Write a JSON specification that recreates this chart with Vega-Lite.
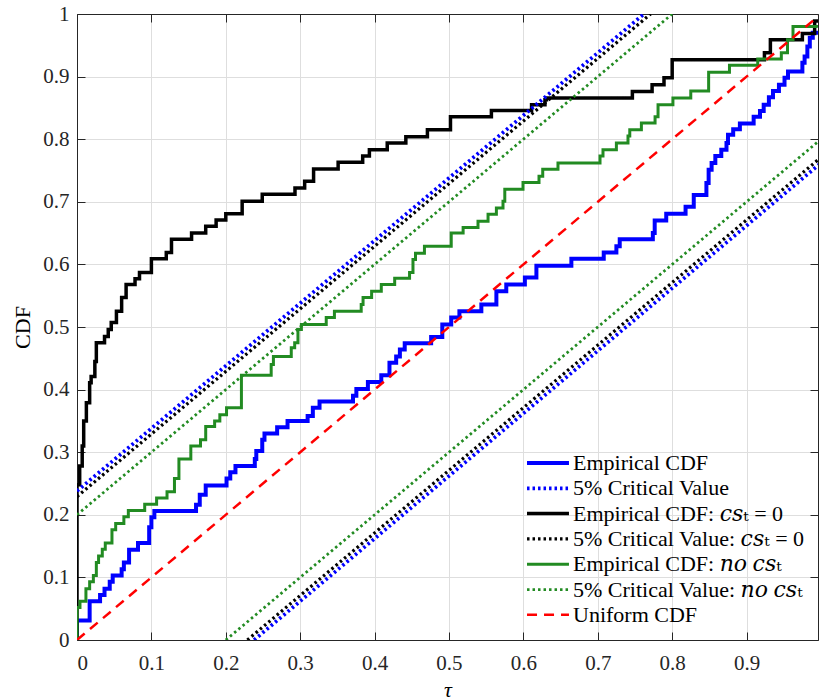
{
  "$schema": "https://vega.github.io/schema/vega-lite/v6.json",
  "width": 741,
  "height": 626,
  "autosize": {"type": "none"},
  "padding": {"left": 77, "top": 14, "right": 1, "bottom": 60},
  "background": "white",
  "config": {
    "view": {"stroke": null},
    "font": "Liberation Serif",
    "axis": {
      "domainColor": "#262626",
      "domainWidth": 1,
      "tickColor": "#262626",
      "tickWidth": 1,
      "tickSize": -8,
      "gridColor": "#dedede",
      "gridWidth": 1,
      "labelFont": "Liberation Serif",
      "labelFontSize": 21,
      "labelColor": "#262626",
      "titleFont": "Liberation Serif",
      "titleFontSize": 22,
      "titleFontWeight": "normal",
      "titleColor": "#000000"
    }
  },
  "datasets": {
    "steps": [
      {"series": "emp", "x": 0, "y": 0},
      {"series": "emp", "x": 0, "y": 0.031},
      {"series": "emp", "x": 0.017, "y": 0.062},
      {"series": "emp", "x": 0.031, "y": 0.072},
      {"series": "emp", "x": 0.037, "y": 0.082},
      {"series": "emp", "x": 0.044, "y": 0.093},
      {"series": "emp", "x": 0.048, "y": 0.103},
      {"series": "emp", "x": 0.06, "y": 0.113},
      {"series": "emp", "x": 0.063, "y": 0.124},
      {"series": "emp", "x": 0.07, "y": 0.144},
      {"series": "emp", "x": 0.082, "y": 0.155},
      {"series": "emp", "x": 0.097, "y": 0.18},
      {"series": "emp", "x": 0.1, "y": 0.196},
      {"series": "emp", "x": 0.104, "y": 0.206},
      {"series": "emp", "x": 0.16, "y": 0.216},
      {"series": "emp", "x": 0.165, "y": 0.232},
      {"series": "emp", "x": 0.173, "y": 0.247},
      {"series": "emp", "x": 0.201, "y": 0.258},
      {"series": "emp", "x": 0.206, "y": 0.268},
      {"series": "emp", "x": 0.213, "y": 0.278},
      {"series": "emp", "x": 0.239, "y": 0.289},
      {"series": "emp", "x": 0.241, "y": 0.302},
      {"series": "emp", "x": 0.249, "y": 0.32},
      {"series": "emp", "x": 0.252, "y": 0.33},
      {"series": "emp", "x": 0.269, "y": 0.34},
      {"series": "emp", "x": 0.283, "y": 0.35},
      {"series": "emp", "x": 0.31, "y": 0.358},
      {"series": "emp", "x": 0.317, "y": 0.371},
      {"series": "emp", "x": 0.326, "y": 0.381},
      {"series": "emp", "x": 0.371, "y": 0.39},
      {"series": "emp", "x": 0.3755, "y": 0.401},
      {"series": "emp", "x": 0.391, "y": 0.412},
      {"series": "emp", "x": 0.409, "y": 0.423},
      {"series": "emp", "x": 0.42, "y": 0.443},
      {"series": "emp", "x": 0.429, "y": 0.453},
      {"series": "emp", "x": 0.434, "y": 0.464},
      {"series": "emp", "x": 0.4405, "y": 0.474},
      {"series": "emp", "x": 0.476, "y": 0.484},
      {"series": "emp", "x": 0.491, "y": 0.504},
      {"series": "emp", "x": 0.503, "y": 0.515},
      {"series": "emp", "x": 0.514, "y": 0.525},
      {"series": "emp", "x": 0.5435, "y": 0.536},
      {"series": "emp", "x": 0.5637, "y": 0.557},
      {"series": "emp", "x": 0.577, "y": 0.568},
      {"series": "emp", "x": 0.602, "y": 0.579},
      {"series": "emp", "x": 0.6175, "y": 0.598},
      {"series": "emp", "x": 0.6645, "y": 0.609},
      {"series": "emp", "x": 0.708, "y": 0.619},
      {"series": "emp", "x": 0.725, "y": 0.629},
      {"series": "emp", "x": 0.7295, "y": 0.64},
      {"series": "emp", "x": 0.774, "y": 0.65},
      {"series": "emp", "x": 0.7765, "y": 0.67},
      {"series": "emp", "x": 0.792, "y": 0.681},
      {"series": "emp", "x": 0.818, "y": 0.692},
      {"series": "emp", "x": 0.829, "y": 0.711},
      {"series": "emp", "x": 0.846, "y": 0.73},
      {"series": "emp", "x": 0.849, "y": 0.751},
      {"series": "emp", "x": 0.853, "y": 0.762},
      {"series": "emp", "x": 0.858, "y": 0.773},
      {"series": "emp", "x": 0.866, "y": 0.783},
      {"series": "emp", "x": 0.873, "y": 0.794},
      {"series": "emp", "x": 0.875, "y": 0.807},
      {"series": "emp", "x": 0.882, "y": 0.816},
      {"series": "emp", "x": 0.891, "y": 0.825},
      {"series": "emp", "x": 0.9095, "y": 0.836},
      {"series": "emp", "x": 0.918, "y": 0.845},
      {"series": "emp", "x": 0.923, "y": 0.855},
      {"series": "emp", "x": 0.93, "y": 0.867},
      {"series": "emp", "x": 0.9355, "y": 0.877},
      {"series": "emp", "x": 0.9435, "y": 0.887},
      {"series": "emp", "x": 0.951, "y": 0.898},
      {"series": "emp", "x": 0.9557, "y": 0.908},
      {"series": "emp", "x": 0.975, "y": 0.922},
      {"series": "emp", "x": 0.978, "y": 0.932},
      {"series": "emp", "x": 0.9817, "y": 0.948},
      {"series": "emp", "x": 0.985, "y": 0.962},
      {"series": "emp", "x": 0.989, "y": 0.97},
      {"series": "emp", "x": 0.996, "y": 0.97},
      {"series": "emp0", "x": 0, "y": 0},
      {"series": "emp0", "x": 0, "y": 0.248},
      {"series": "emp0", "x": 0.0036, "y": 0.278},
      {"series": "emp0", "x": 0.007, "y": 0.31},
      {"series": "emp0", "x": 0.009, "y": 0.35},
      {"series": "emp0", "x": 0.0126, "y": 0.379},
      {"series": "emp0", "x": 0.017, "y": 0.411},
      {"series": "emp0", "x": 0.019, "y": 0.421},
      {"series": "emp0", "x": 0.024, "y": 0.445},
      {"series": "emp0", "x": 0.026, "y": 0.475},
      {"series": "emp0", "x": 0.037, "y": 0.485},
      {"series": "emp0", "x": 0.042, "y": 0.496},
      {"series": "emp0", "x": 0.046, "y": 0.507},
      {"series": "emp0", "x": 0.053, "y": 0.525},
      {"series": "emp0", "x": 0.06, "y": 0.547},
      {"series": "emp0", "x": 0.066, "y": 0.568},
      {"series": "emp0", "x": 0.078, "y": 0.577},
      {"series": "emp0", "x": 0.084, "y": 0.587},
      {"series": "emp0", "x": 0.1, "y": 0.609},
      {"series": "emp0", "x": 0.12, "y": 0.619},
      {"series": "emp0", "x": 0.127, "y": 0.64},
      {"series": "emp0", "x": 0.154, "y": 0.65},
      {"series": "emp0", "x": 0.173, "y": 0.661},
      {"series": "emp0", "x": 0.187, "y": 0.671},
      {"series": "emp0", "x": 0.2, "y": 0.681},
      {"series": "emp0", "x": 0.222, "y": 0.701},
      {"series": "emp0", "x": 0.249, "y": 0.712},
      {"series": "emp0", "x": 0.293, "y": 0.722},
      {"series": "emp0", "x": 0.306, "y": 0.733},
      {"series": "emp0", "x": 0.318, "y": 0.7525},
      {"series": "emp0", "x": 0.351, "y": 0.763},
      {"series": "emp0", "x": 0.384, "y": 0.773},
      {"series": "emp0", "x": 0.393, "y": 0.783},
      {"series": "emp0", "x": 0.417, "y": 0.794},
      {"series": "emp0", "x": 0.442, "y": 0.804},
      {"series": "emp0", "x": 0.471, "y": 0.815},
      {"series": "emp0", "x": 0.502, "y": 0.836},
      {"series": "emp0", "x": 0.557, "y": 0.846},
      {"series": "emp0", "x": 0.611, "y": 0.855},
      {"series": "emp0", "x": 0.629, "y": 0.863},
      {"series": "emp0", "x": 0.631, "y": 0.866},
      {"series": "emp0", "x": 0.7465, "y": 0.876},
      {"series": "emp0", "x": 0.773, "y": 0.887},
      {"series": "emp0", "x": 0.789, "y": 0.898},
      {"series": "emp0", "x": 0.8, "y": 0.927},
      {"series": "emp0", "x": 0.924, "y": 0.938},
      {"series": "emp0", "x": 0.932, "y": 0.959},
      {"series": "emp0", "x": 0.975, "y": 0.969},
      {"series": "emp0", "x": 0.9915, "y": 0.989},
      {"series": "emp0", "x": 0.996, "y": 0.989},
      {"series": "empn", "x": 0, "y": 0},
      {"series": "empn", "x": 0, "y": 0.052},
      {"series": "empn", "x": 0.004, "y": 0.062},
      {"series": "empn", "x": 0.012, "y": 0.082},
      {"series": "empn", "x": 0.017, "y": 0.093},
      {"series": "empn", "x": 0.022, "y": 0.103},
      {"series": "empn", "x": 0.026, "y": 0.124},
      {"series": "empn", "x": 0.029, "y": 0.134},
      {"series": "empn", "x": 0.034, "y": 0.145},
      {"series": "empn", "x": 0.038, "y": 0.155},
      {"series": "empn", "x": 0.047, "y": 0.176},
      {"series": "empn", "x": 0.052, "y": 0.186},
      {"series": "empn", "x": 0.063, "y": 0.197},
      {"series": "empn", "x": 0.069, "y": 0.207},
      {"series": "empn", "x": 0.091, "y": 0.217},
      {"series": "empn", "x": 0.107, "y": 0.227},
      {"series": "empn", "x": 0.121, "y": 0.237},
      {"series": "empn", "x": 0.131, "y": 0.258},
      {"series": "empn", "x": 0.137, "y": 0.289},
      {"series": "empn", "x": 0.153, "y": 0.31},
      {"series": "empn", "x": 0.166, "y": 0.32},
      {"series": "empn", "x": 0.173, "y": 0.341},
      {"series": "empn", "x": 0.185, "y": 0.35},
      {"series": "empn", "x": 0.192, "y": 0.36},
      {"series": "empn", "x": 0.201, "y": 0.371},
      {"series": "empn", "x": 0.221, "y": 0.423},
      {"series": "empn", "x": 0.261, "y": 0.44},
      {"series": "empn", "x": 0.264, "y": 0.453},
      {"series": "empn", "x": 0.288, "y": 0.467},
      {"series": "empn", "x": 0.2926, "y": 0.475},
      {"series": "empn", "x": 0.297, "y": 0.496},
      {"series": "empn", "x": 0.3016, "y": 0.504},
      {"series": "empn", "x": 0.335, "y": 0.515},
      {"series": "empn", "x": 0.346, "y": 0.525},
      {"series": "empn", "x": 0.382, "y": 0.536},
      {"series": "empn", "x": 0.3845, "y": 0.547},
      {"series": "empn", "x": 0.396, "y": 0.557},
      {"series": "empn", "x": 0.409, "y": 0.568},
      {"series": "empn", "x": 0.427, "y": 0.578},
      {"series": "empn", "x": 0.447, "y": 0.587},
      {"series": "empn", "x": 0.4516, "y": 0.608},
      {"series": "empn", "x": 0.455, "y": 0.618},
      {"series": "empn", "x": 0.467, "y": 0.629},
      {"series": "empn", "x": 0.503, "y": 0.65},
      {"series": "empn", "x": 0.519, "y": 0.659},
      {"series": "empn", "x": 0.539, "y": 0.669},
      {"series": "empn", "x": 0.5525, "y": 0.68},
      {"series": "empn", "x": 0.5637, "y": 0.69},
      {"series": "empn", "x": 0.5726, "y": 0.701},
      {"series": "empn", "x": 0.575, "y": 0.72},
      {"series": "empn", "x": 0.5995, "y": 0.731},
      {"series": "empn", "x": 0.621, "y": 0.741},
      {"series": "empn", "x": 0.626, "y": 0.752},
      {"series": "empn", "x": 0.6465, "y": 0.762},
      {"series": "empn", "x": 0.703, "y": 0.773},
      {"series": "empn", "x": 0.707, "y": 0.783},
      {"series": "empn", "x": 0.725, "y": 0.794},
      {"series": "empn", "x": 0.7406, "y": 0.805},
      {"series": "empn", "x": 0.743, "y": 0.815},
      {"series": "empn", "x": 0.7586, "y": 0.826},
      {"series": "empn", "x": 0.777, "y": 0.836},
      {"series": "empn", "x": 0.781, "y": 0.855},
      {"series": "empn", "x": 0.801, "y": 0.866},
      {"series": "empn", "x": 0.825, "y": 0.877},
      {"series": "empn", "x": 0.849, "y": 0.907},
      {"series": "empn", "x": 0.877, "y": 0.918},
      {"series": "empn", "x": 0.915, "y": 0.928},
      {"series": "empn", "x": 0.9467, "y": 0.938},
      {"series": "empn", "x": 0.955, "y": 0.959},
      {"series": "empn", "x": 0.9624, "y": 0.98},
      {"series": "empn", "x": 0.996, "y": 0.98}
    ],
    "straight": [
      {"series": "crit", "seg": "up", "x": 0, "y": 0.238},
      {"series": "crit", "seg": "up", "x": 0.762, "y": 1},
      {"series": "crit", "seg": "lo", "x": 0.238, "y": 0},
      {"series": "crit", "seg": "lo", "x": 1, "y": 0.762},
      {"series": "crit0", "seg": "up", "x": 0, "y": 0.229},
      {"series": "crit0", "seg": "up", "x": 0.771, "y": 1},
      {"series": "crit0", "seg": "lo", "x": 0.229, "y": 0},
      {"series": "crit0", "seg": "lo", "x": 1, "y": 0.771},
      {"series": "critn", "seg": "up", "x": 0, "y": 0.2},
      {"series": "critn", "seg": "up", "x": 0.8, "y": 1},
      {"series": "critn", "seg": "lo", "x": 0.2, "y": 0},
      {"series": "critn", "seg": "lo", "x": 1, "y": 0.8},
      {"series": "unif", "seg": "up", "x": 0, "y": 0},
      {"series": "unif", "seg": "up", "x": 1, "y": 1}
    ]
  },
  "layer": [
    {
      "data": {"name": "steps"},
      "mark": {"type": "line", "interpolate": "step-after", "clip": true},
      "encoding": {
        "x": {
          "field": "x", "type": "quantitative",
          "scale": {"domain": [0, 0.996], "nice": false, "zero": false},
          "axis": {"orient": "bottom", "values": [0, 0.1, 0.2, 0.3, 0.4, 0.5, 0.6, 0.7, 0.8, 0.9], "format": ".1~f", "labelPadding": 20, "grid": true, "title": "τ", "titleFontStyle": "italic", "titlePadding": 6}
        },
        "y": {
          "field": "y", "type": "quantitative",
          "scale": {"domain": [0, 1], "nice": false},
          "axis": {"orient": "left", "values": [0, 0.1, 0.2, 0.3, 0.4, 0.5, 0.6, 0.7, 0.8, 0.9, 1], "format": ".1~f", "labelPadding": 16, "grid": true, "title": "CDF", "titlePadding": 8}
        },
        "color": {
          "field": "series", "type": "nominal",
          "scale": {"domain": ["emp", "crit", "emp0", "crit0", "empn", "critn", "unif"], "range": ["#0000ff", "#0000ff", "#000000", "#000000", "#228b22", "#228b22", "#ff0000"]},
          "legend": {
            "orient": "none", "legendX": 460, "legendY": 438, "title": null, "padding": 0, "rowPadding": 3.3,
            "symbolType": "M-4,0H4", "symbolSize": 110, "labelFont": "Liberation Serif, DejaVu Serif", "labelFontSize": 22, "labelColor": "#000000", "labelOffset": 14, "labelLimit": 400,
            "labelExpr": "datum.value == 'emp' ? 'Empirical CDF' : datum.value == 'crit' ? '5% Critical Value' : datum.value == 'emp0' ? 'Empirical CDF: 𝑐𝑠ₜ = 0' : datum.value == 'crit0' ? '5% Critical Value: 𝑐𝑠ₜ = 0' : datum.value == 'empn' ? 'Empirical CDF: 𝑛𝑜 𝑐𝑠ₜ' : datum.value == 'critn' ? '5% Critical Value: 𝑛𝑜 𝑐𝑠ₜ' : 'Uniform CDF'"
          }
        },
        "strokeDash": {
          "field": "series", "type": "nominal",
          "scale": {"domain": ["emp", "crit", "emp0", "crit0", "empn", "critn", "unif"], "range": [[1, 0], [2.5, 3], [1, 0], [2.5, 3], [1, 0], [2.5, 3], [10, 7]]}
        },
        "strokeWidth": {
          "field": "series", "type": "nominal",
          "scale": {"domain": ["emp", "crit", "emp0", "crit0", "empn", "critn", "unif"], "range": [4, 2.5, 4, 2.5, 1.8, 2.5, 2.5]}
        }
      }
    },
    {
      "data": {"name": "straight"},
      "mark": {"type": "line", "clip": true},
      "encoding": {
        "x": {"field": "x", "type": "quantitative", "axis": null},
        "y": {"field": "y", "type": "quantitative", "axis": null},
        "detail": {"field": "seg"},
        "color": {"field": "series", "type": "nominal"},
        "strokeDash": {"field": "series", "type": "nominal"},
        "strokeWidth": {"field": "series", "type": "nominal"}
      }
    },
    {
      "data": {"name": "straight"},
      "mark": {"type": "line", "opacity": 0, "clip": true},
      "encoding": {
        "x": {"field": "x", "type": "quantitative", "axis": {"orient": "top", "values": [0, 0.1, 0.2, 0.3, 0.4, 0.5, 0.6, 0.7, 0.8, 0.9], "labels": false, "grid": false, "title": null}},
        "y": {"field": "y", "type": "quantitative", "axis": {"orient": "right", "values": [0, 0.1, 0.2, 0.3, 0.4, 0.5, 0.6, 0.7, 0.8, 0.9, 1], "labels": false, "grid": false, "title": null}},
        "detail": {"field": "seg"}
      }
    }
  ],
  "resolve": {"axis": {"x": "independent", "y": "independent"}}
}
